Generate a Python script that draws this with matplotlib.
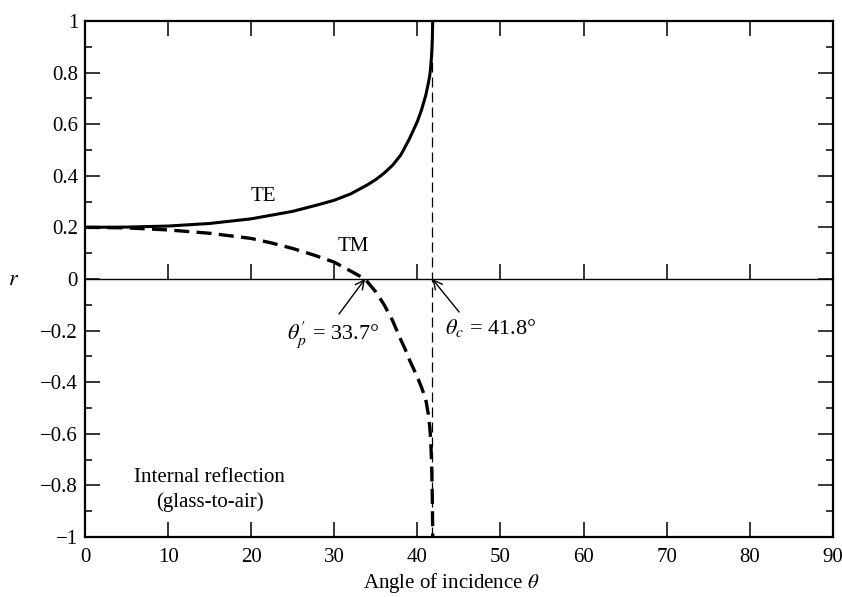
import matplotlib
matplotlib.use("Agg")
import matplotlib.pyplot as plt
from matplotlib.ticker import MultipleLocator

# ── data ──────────────────────────────────────────────────────
te_angle = [0, 5, 10, 15, 20, 25, 28, 30, 32, 34, 35, 36, 36.5, 37, 37.5, 38, 38.5, 39,
            39.5, 40, 40.5, 41, 41.3, 41.5, 41.6, 41.7, 41.75, 41.8, 41.83, 41.85]
te_r = [0.200, 0.201, 0.205, 0.215, 0.233, 0.262, 0.287, 0.305, 0.330, 0.365, 0.385, 0.41,
        0.425, 0.44, 0.46, 0.48, 0.51, 0.54, 0.575, 0.61, 0.655, 0.71, 0.755, 0.79, 0.82,
        0.86, 0.89, 0.93, 0.97, 1.0]

tm_angle = [0, 5, 10, 15, 20, 22.5, 25, 27.5, 30, 32, 33.7, 35, 36, 37, 38, 38.5, 39, 39.5,
            40, 40.5, 41, 41.3, 41.5, 41.6, 41.7, 41.75, 41.8, 41.83, 41.85]
tm_r = [0.200, 0.198, 0.190, 0.177, 0.157, 0.139, 0.118, 0.093, 0.065, 0.030, 0.0, -0.05,
        -0.10, -0.16, -0.235, -0.27, -0.31, -0.345, -0.38, -0.42, -0.465, -0.52, -0.575,
        -0.62, -0.70, -0.76, -0.85, -0.93, -1.0]

brewster_angle = 33.7
critical_angle = 41.8

x_ticks = [0, 10, 20, 30, 40, 50, 60, 70, 80, 90]
y_ticks = [-1, -0.8, -0.6, -0.4, -0.2, 0, 0.2, 0.4, 0.6, 0.8, 1]
y_tick_labels = ["\u22121", "\u22120.8", "\u22120.6", "\u22120.4", "\u22120.2", "0",
                 "0.2", "0.4", "0.6", "0.8", "1"]

plt.rcParams["font.family"] = ["Liberation Serif", "DejaVu Serif"]
plt.rcParams["mathtext.fontset"] = "stix"

fig = plt.figure(figsize=(8.42, 5.97), dpi=100)
ax = fig.add_axes([0.101, 0.1005, 0.888, 0.8645])

# curves
ax.plot(te_angle, te_r, color="black", lw=2.2, solid_capstyle="butt")
ax.plot(tm_angle, tm_r, color="black", lw=2.4, ls=(0, (4.5, 2.2)))

# critical angle guide
ax.axvline(critical_angle, color="black", lw=0.9, ls=(0, (8, 4)))

ax.set_xlim(0, 90)
ax.set_ylim(-1, 1)
ax.set_xticks(x_ticks)
ax.set_yticks(y_ticks)
ax.set_yticklabels(y_tick_labels)
ax.yaxis.set_minor_locator(MultipleLocator(0.1))

ax.tick_params(which="both", direction="in", top=True, right=True, labelsize=15, width=1.1)
ax.tick_params(axis="x", which="major", length=11, pad=8)
ax.tick_params(axis="y", which="major", length=11, pad=5)
ax.tick_params(axis="y", which="minor", length=5)

for spine in ax.spines.values():
    spine.set_linewidth(1.6)

# zero line with its own upward ticks
zero_ax = ax.secondary_xaxis(0.5)
zero_ax.set_xticks(x_ticks)
zero_ax.tick_params(direction="out", length=11, width=1.1,
                    labeltop=False, labelbottom=False)
zero_ax.spines["top"].set_linewidth(1.0)
zero_ax.spines["bottom"].set_linewidth(1.0)

ax.set_xlabel("Angle of incidence $\\theta$", fontsize=15)
ax.xaxis.set_label_coords(0.49, -0.066)
ax.set_ylabel("$r$", fontsize=16, rotation=0, va="center")
ax.yaxis.set_label_coords(-0.095, 0.497)

# labels
ax.text(21.5, 0.32, "TE", fontsize=15, ha="center", va="center")
ax.text(32.3, 0.126, "TM", fontsize=15, ha="center", va="center")
ax.text(15.0, -0.77, "Internal reflection", fontsize=15, ha="center", va="center")
ax.text(15.0, -0.865, "(glass-to-air)", fontsize=15, ha="center", va="center")

ax.annotate("$\\theta_p'$ = 33.7°", xy=(brewster_angle, 0), xytext=(29.9, -0.215),
            fontsize=16, ha="center", va="center",
            arrowprops=dict(arrowstyle="->", color="black", lw=1.0,
                            shrinkA=2, shrinkB=0, relpos=(0.52, 1.0)))
ax.annotate("$\\theta_c$ = 41.8°", xy=(critical_angle, 0), xytext=(48.8, -0.19),
            fontsize=16, ha="center", va="center",
            arrowprops=dict(arrowstyle="->", color="black", lw=1.0,
                            shrinkA=2, shrinkB=0, relpos=(0.2, 1.0)))

plt.savefig("out.png", dpi=100)
